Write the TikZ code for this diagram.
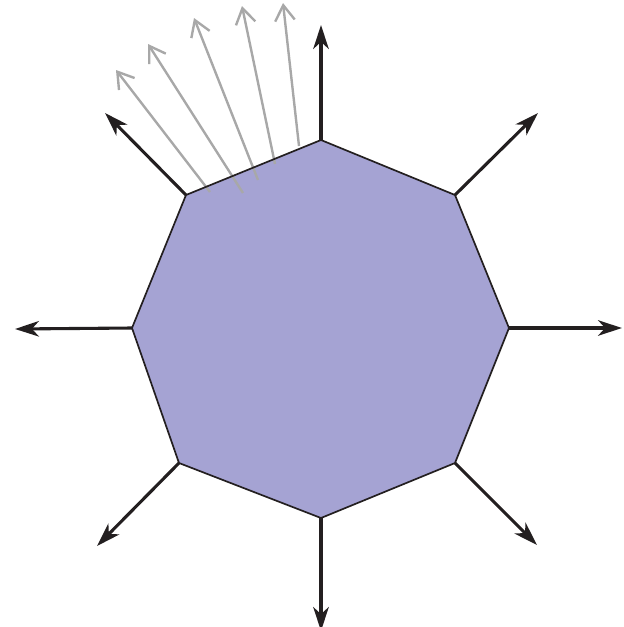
\documentclass[tikz,border=0pt]{standalone}
\usetikzlibrary{arrows.meta}
\definecolor{octfill}{RGB}{165,163,211}
\definecolor{raygray}{RGB}{168,168,168}
\definecolor{edgeblack}{RGB}{35,31,32}
\begin{document}
\begin{tikzpicture}[x=0.025cm,y=-0.025cm,
	outward/.style={edgeblack, line width=2.2pt, -{Stealth[length=17pt,width=11pt,inset=5pt]}},
	ray/.style={raygray, line width=1.7pt, -{Straight Barb[length=11pt,width=14pt]}}]
			\useasboundingbox (0,0) rectangle (624,627);
			% vertices and arrow ends
			\foreach \vx/\vy/\nx/\ny [count=\i] in {509/328/622/328, 455/195/538/113, 321/140/321/25, 186/195/105/113, 132/328/15/329, 179/463/97/546, 321/518/321/631, 455/463/537/545} {
				\coordinate (v\i) at (\vx,\vy);
				\coordinate (n\i) at (\nx,\ny);
			}
			\foreach \sx/\sy/\ex/\ey [count=\k] in {210/192/116/70, 243/193/148/44, 258/180/194/18, 275/164/242/6, 299/146/283/3} {
				\coordinate (rs\k) at (\sx,\sy);
				\coordinate (re\k) at (\ex,\ey);
			}
			% octagon
			\fill[octfill] (v1) -- (v2) -- (v3) -- (v4) -- (v5) -- (v6) -- (v7) -- (v8) -- cycle;
			\foreach \k in {1,...,5} {
				\draw[ray] (rs\k) -- (re\k);
			}
			\draw[edgeblack, line width=1.2pt, line join=round] (v1) -- (v2) -- (v3) -- (v4) -- (v5) -- (v6) -- (v7) -- (v8) -- cycle;
			% normals
			\foreach \i in {1,...,8} {
				\draw[outward] (v\i) -- (n\i);
			}
		\end{tikzpicture}
\end{document}
